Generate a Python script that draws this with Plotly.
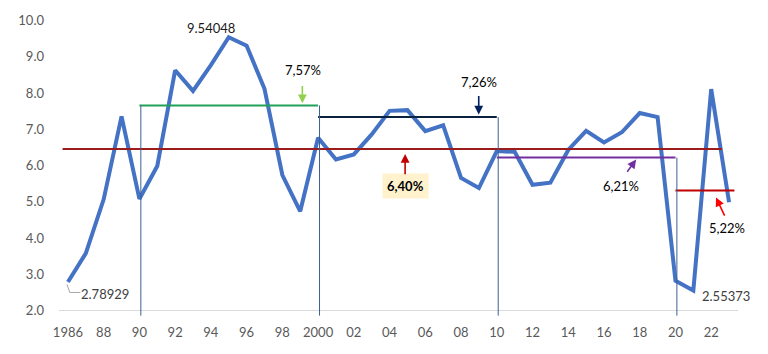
import plotly.graph_objects as go

years = list(range(1986, 2024))
growth = [2.78929, 3.58, 5.07, 7.36, 5.08, 5.99, 8.63, 8.06, 8.77, 9.54048,
          9.31, 8.12, 5.74, 4.74, 6.77, 6.17, 6.31, 6.86, 7.51, 7.53,
          6.95, 7.11, 5.66, 5.38, 6.40, 6.38, 5.47, 5.53, 6.43, 6.96,
          6.64, 6.92, 7.45, 7.34, 2.82, 2.55373, 8.11, 4.99]

tick_vals = [1986, 1988, 1990, 1992, 1994, 1996, 1998, 2000, 2002, 2004,
             2006, 2008, 2010, 2012, 2014, 2016, 2018, 2020, 2022]
tick_text = ["1986", "88", "90", "92", "94", "96", "98", "2000", "02", "04",
             "06", "08", "10", "12", "14", "16", "18", "20", "22"]

# period averages (drawn level, label)
period_start = [1990, 2000, 2010, 2020]
period_end = [2000, 2010, 2020, 2023.3]
period_level = [7.66, 7.34, 6.22, 5.31]
period_label = ["7,57%", "7,26%", "6,21%", "5,22%"]
period_color = ["#23A05A", "#0B2140", "#7030A0", "#C00000"]
overall_level = 6.46
overall_label = "6,40%"

FONT = "Lato, 'Open Sans', sans-serif"

fig = go.Figure()
fig.add_trace(go.Scatter(x=years, y=growth, mode="lines",
                         line=dict(color="#4472C4", width=4),
                         hoverinfo="skip", showlegend=False))

shapes = []
# baseline x axis
shapes.append(dict(type="line", xref="x", yref="y", x0=1985.5, x1=2023.5, y0=2, y1=2,
                   line=dict(color="#D9D9D9", width=1), layer="below"))
# overall mean line
shapes.append(dict(type="line", xref="x", yref="y", x0=1985.7, x1=2022.6,
                   y0=overall_level, y1=overall_level,
                   line=dict(color="#9B1C1C", width=2)))
# period lines + verticals
for s, e, lv, c in zip(period_start, period_end, period_level, period_color):
    shapes.append(dict(type="line", xref="x", yref="y", x0=s, x1=e, y0=lv, y1=lv,
                       line=dict(color=c, width=2)))
vert_tops = [period_level[0], period_level[0], period_level[1], period_level[2]]
for s, top in zip([1990, 2000, 2010, 2020], vert_tops):
    shapes.append(dict(type="line", xref="x", yref="y", x0=s + 0.08, x1=s + 0.08,
                       y0=1.86, y1=top,
                       line=dict(color="#3E5F94", width=1)))
# leader line for first label
shapes.append(dict(type="path", xref="x", yref="y",
                   path="M 1985.95,2.72 L 1986.1,2.5 L 1986.7,2.5",
                   line=dict(color="#A6A6A6", width=1)))

ann = []
def txt(x, y, t, color="#000000", size=13, **kw):
    ann.append(dict(x=x, y=y, text=t, showarrow=False, xref="x", yref="y",
                    font=dict(family=FONT, size=size, color=color), **kw))

def arrow(x, y, ax, ay, color):
    ann.append(dict(x=x, y=y, ax=ax, ay=ay, xref="x", yref="y", axref="x", ayref="y",
                    text="", showarrow=True, arrowhead=2, arrowsize=1.1,
                    arrowwidth=1.6, arrowcolor=color))

txt(1994.0, 9.8, "9.54048", color="#1a1a1a")
txt(1988.05, 2.46, "2.78929", color="#404040")
txt(2022.85, 2.39, "2.55373", color="#404040")
txt(1999.14, 8.63, period_label[0])
arrow(1999.12, 7.72, 1999.12, 8.24, "#92D050")
txt(2008.99, 8.31, period_label[1])
arrow(2008.99, 7.41, 2008.99, 7.96, "#002060")
txt(2016.96, 5.44, period_label[2])
arrow(2017.8, 6.17, 2017.24, 5.79, "#7030A0")
txt(2022.9, 4.29, period_label[3])
arrow(2022.27, 5.12, 2022.79, 4.58, "#FF0000")
ann.append(dict(x=2004.87, y=5.44, text="<b>" + overall_label + "</b>", showarrow=False,
                xref="x", yref="y", bgcolor="#FFF2CC", borderpad=4,
                font=dict(family=FONT, size=13, color="#000000")))
arrow(2004.87, 6.32, 2004.87, 5.72, "#C00000")

fig.update_layout(
    width=768, height=354,
    margin=dict(l=59, r=30, t=14, b=38),
    paper_bgcolor="white", plot_bgcolor="white",
    shapes=shapes, annotations=ann,
    xaxis=dict(range=[1985.5, 2023.5], tickvals=tick_vals, ticktext=tick_text,
               showgrid=False, zeroline=False, showline=False, ticks="",
               tickfont=dict(family=FONT, size=13, color="#595959"),
               ticklabelstandoff=7),
    yaxis=dict(range=[1.85, 10.1], tickvals=[2, 3, 4, 5, 6, 7, 8, 9, 10],
               tickformat=".1f", showgrid=False, zeroline=False, showline=False,
               ticks="", tickfont=dict(family=FONT, size=13, color="#595959"),
               ticklabelstandoff=14),
    font=dict(family=FONT),
)

fig.write_html("out.html")
